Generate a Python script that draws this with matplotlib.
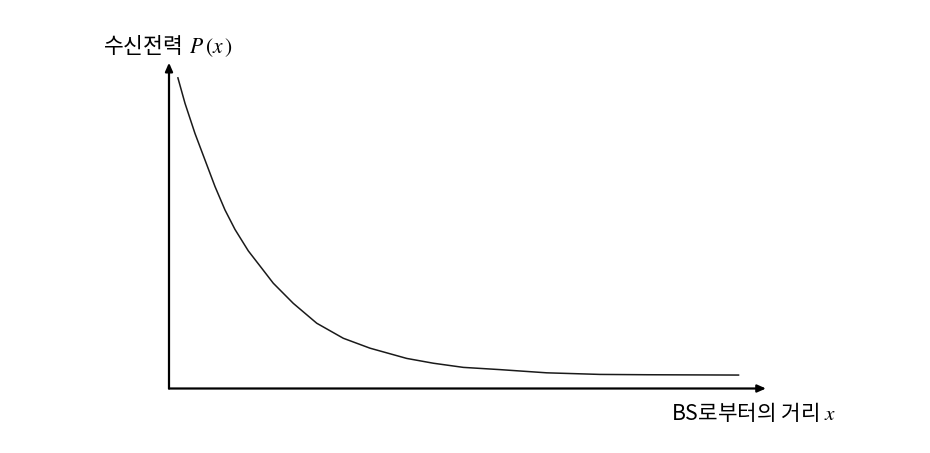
import matplotlib
matplotlib.use("Agg")
import matplotlib.pyplot as plt

plt.rcParams['font.family'] = ['Noto Sans CJK KR', 'DejaVu Sans']
plt.rcParams['mathtext.fontset'] = 'stix'

# distance from BS (arbitrary units) and received power (arbitrary units)
distance = [0.145, 0.267, 0.433, 0.60, 0.767, 0.933, 1.10, 1.322, 1.545,
            1.738, 2.072, 2.462, 2.905, 3.35, 3.962, 4.405, 4.905, 5.517,
            6.295, 7.183, 7.962, 9.505]
power = [9.73, 8.91, 7.97, 7.14, 6.31, 5.58, 4.97, 4.30, 3.76,
         3.29, 2.66, 2.04, 1.57, 1.26, 0.94, 0.79, 0.66, 0.59,
         0.49, 0.44, 0.43, 0.42]

y_label = "수신전력 $\\,P\\,(x\\,)$"
x_label = "BS로부터의 거리 $x$"

W, H = 930, 453
fig = plt.figure(figsize=(W / 100, H / 100), dpi=100)
x0, y0 = 169, 388.5
x1, y1 = 766, 62.7
ax = fig.add_axes([x0 / W, (H - y0) / H, (x1 - x0) / W, (y0 - y1) / H])
ax.set_xlim(0, (x1 - x0) / 60)
ax.set_ylim(0, (y0 - y1) / 32)
for s in ax.spines.values():
    s.set_visible(False)
ax.set_xticks([])
ax.set_yticks([])
ax.patch.set_alpha(0)

ax.plot(distance, power, color='#1a1a1a', lw=1.1, solid_capstyle='butt',
        solid_joinstyle='round')

arrow = dict(arrowstyle='-|>,head_length=0.5,head_width=0.22', color='black',
             lw=1.6, shrinkA=0, shrinkB=0)
ax.annotate('', xy=(1, 0), xytext=(0, 0), xycoords='axes fraction',
            textcoords='axes fraction', arrowprops=arrow)
ax.annotate('', xy=(0, 1), xytext=(0, 0), xycoords='axes fraction',
            textcoords='axes fraction', arrowprops=arrow)

fig.text(103 / W, 1 - 46 / H, y_label, fontsize=15.5, ha='left', va='center')
fig.text(836 / W, 1 - 413 / H, x_label, fontsize=15.3, ha='right', va='center')

fig.savefig('out.png', dpi=100)
